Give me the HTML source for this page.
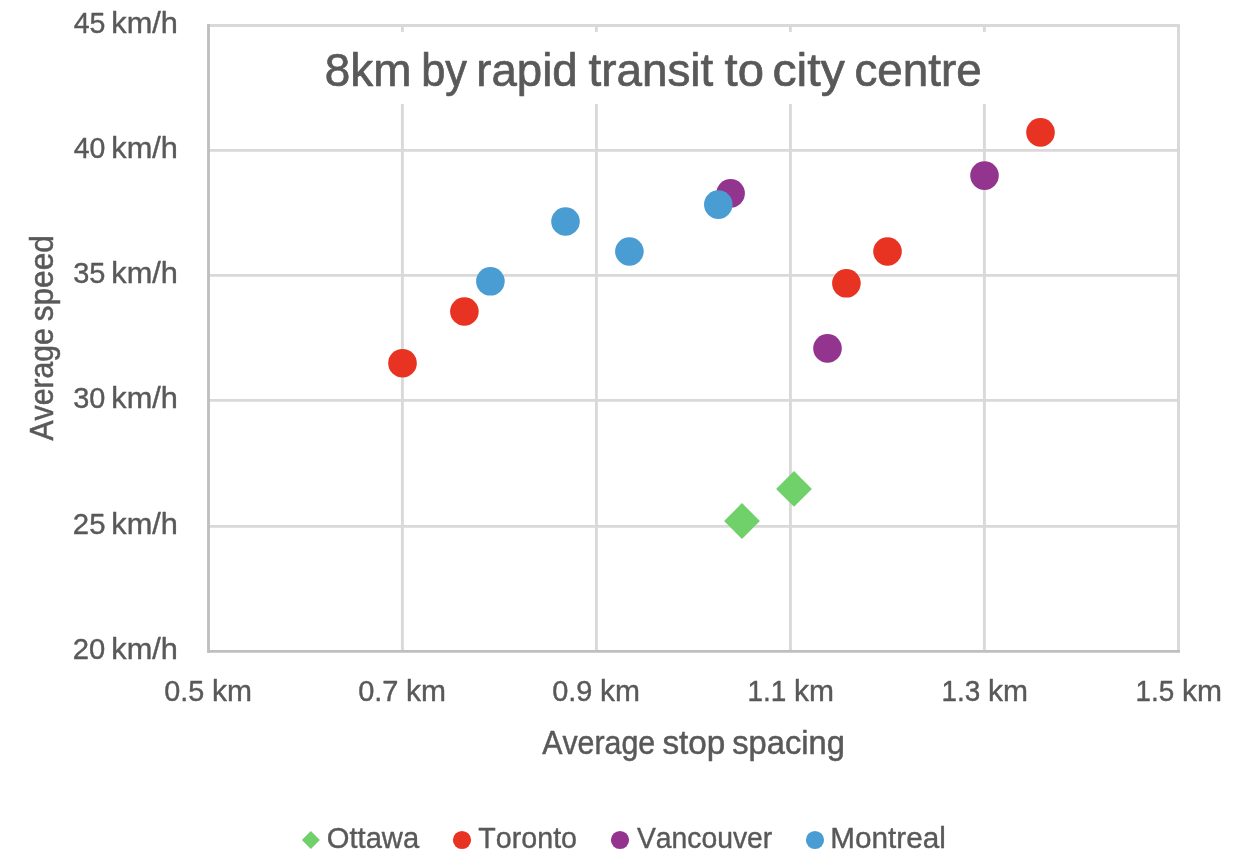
<!DOCTYPE html>
<html lang="en"><head><meta charset="utf-8"><title>8km by rapid transit to city centre</title>
<style>html,body{margin:0;padding:0;background:#fff;}body{width:1246px;height:866px;overflow:hidden;}svg{display:block;}text{font-family:"Liberation Sans",sans-serif;fill:#595959;stroke:#595959;stroke-linejoin:round;font-kerning:none;white-space:pre;}</style></head><body>
<svg width="1246" height="866" viewBox="0 0 1246 866">
<rect width="1246" height="866" fill="#fff"/>
<line x1="208.5" y1="25.5" x2="1180.0" y2="25.5" stroke="#d9d9d9" stroke-width="2.9"/>
<line x1="208.5" y1="150.4" x2="1180.0" y2="150.4" stroke="#d9d9d9" stroke-width="2.9"/>
<line x1="208.5" y1="275.4" x2="1180.0" y2="275.4" stroke="#d9d9d9" stroke-width="2.9"/>
<line x1="208.5" y1="400.4" x2="1180.0" y2="400.4" stroke="#d9d9d9" stroke-width="2.9"/>
<line x1="208.5" y1="526.4" x2="1180.0" y2="526.4" stroke="#d9d9d9" stroke-width="2.9"/>
<line x1="402.4" y1="25.5" x2="402.4" y2="651.4" stroke="#d9d9d9" stroke-width="2.9"/>
<line x1="596.4" y1="25.5" x2="596.4" y2="651.4" stroke="#d9d9d9" stroke-width="2.9"/>
<line x1="790.4" y1="25.5" x2="790.4" y2="651.4" stroke="#d9d9d9" stroke-width="2.9"/>
<line x1="984.4" y1="25.5" x2="984.4" y2="651.4" stroke="#d9d9d9" stroke-width="2.9"/>
<line x1="1178.5" y1="25.5" x2="1178.5" y2="651.4" stroke="#d9d9d9" stroke-width="2.9"/>
<rect x="209.9" y="31.9" width="967.1" height="72.1" fill="#fff"/>
<line x1="208.5" y1="24.1" x2="208.5" y2="652.9" stroke="#bfbfbf" stroke-width="2.9"/>
<line x1="208.5" y1="651.4" x2="1180.0" y2="651.4" stroke="#bfbfbf" stroke-width="2.9"/>
<text y="85.7" font-size="46.4" stroke-width="0.7"><tspan x="324.76" textLength="86.61" lengthAdjust="spacingAndGlyphs">8km</tspan> <tspan x="421.26" textLength="45.78" lengthAdjust="spacingAndGlyphs">by</tspan> <tspan x="476.32" textLength="101.37" lengthAdjust="spacingAndGlyphs">rapid</tspan> <tspan x="588.46" textLength="124.83" lengthAdjust="spacingAndGlyphs">transit</tspan> <tspan x="724.63" textLength="39.40" lengthAdjust="spacingAndGlyphs">to</tspan> <tspan x="772.40" textLength="72.45" lengthAdjust="spacingAndGlyphs">city</tspan> <tspan x="854.40" textLength="127.38" lengthAdjust="spacingAndGlyphs">centre</tspan></text>
<text y="32.8" font-size="28.6" stroke-width="0.40"><tspan x="73.64" textLength="31.75" lengthAdjust="spacingAndGlyphs">45</tspan> <tspan x="111.33" textLength="66.56" lengthAdjust="spacingAndGlyphs">km/h</tspan></text>
<text y="157.7" font-size="28.6" stroke-width="0.40"><tspan x="73.65" textLength="31.67" lengthAdjust="spacingAndGlyphs">40</tspan> <tspan x="111.33" textLength="66.56" lengthAdjust="spacingAndGlyphs">km/h</tspan></text>
<text y="282.7" font-size="28.6" stroke-width="0.40"><tspan x="73.20" textLength="32.22" lengthAdjust="spacingAndGlyphs">35</tspan> <tspan x="111.33" textLength="66.56" lengthAdjust="spacingAndGlyphs">km/h</tspan></text>
<text y="407.7" font-size="28.6" stroke-width="0.40"><tspan x="73.20" textLength="32.13" lengthAdjust="spacingAndGlyphs">30</tspan> <tspan x="111.33" textLength="66.56" lengthAdjust="spacingAndGlyphs">km/h</tspan></text>
<text y="533.7" font-size="28.6" stroke-width="0.40"><tspan x="72.83" textLength="32.61" lengthAdjust="spacingAndGlyphs">25</tspan> <tspan x="111.33" textLength="66.56" lengthAdjust="spacingAndGlyphs">km/h</tspan></text>
<text y="658.7" font-size="28.6" stroke-width="0.40"><tspan x="72.83" textLength="32.51" lengthAdjust="spacingAndGlyphs">20</tspan> <tspan x="111.33" textLength="66.56" lengthAdjust="spacingAndGlyphs">km/h</tspan></text>
<text y="700.8" font-size="28.6" stroke-width="0.40"><tspan x="164.28" textLength="40.03" lengthAdjust="spacingAndGlyphs">0.5</tspan> <tspan x="212.08" textLength="40.00" lengthAdjust="spacingAndGlyphs">km</tspan></text>
<text y="700.8" font-size="28.6" stroke-width="0.40"><tspan x="358.17" textLength="40.29" lengthAdjust="spacingAndGlyphs">0.7</tspan> <tspan x="405.98" textLength="40.00" lengthAdjust="spacingAndGlyphs">km</tspan></text>
<text y="700.8" font-size="28.6" stroke-width="0.40"><tspan x="552.17" textLength="40.20" lengthAdjust="spacingAndGlyphs">0.9</tspan> <tspan x="599.98" textLength="40.00" lengthAdjust="spacingAndGlyphs">km</tspan></text>
<text y="700.8" font-size="28.6" stroke-width="0.40"><tspan x="747.47" textLength="38.90" lengthAdjust="spacingAndGlyphs">1.1</tspan> <tspan x="793.98" textLength="40.00" lengthAdjust="spacingAndGlyphs">km</tspan></text>
<text y="700.8" font-size="28.6" stroke-width="0.40"><tspan x="941.48" textLength="38.75" lengthAdjust="spacingAndGlyphs">1.3</tspan> <tspan x="987.98" textLength="40.00" lengthAdjust="spacingAndGlyphs">km</tspan></text>
<text y="700.8" font-size="28.6" stroke-width="0.40"><tspan x="1135.58" textLength="38.69" lengthAdjust="spacingAndGlyphs">1.5</tspan> <tspan x="1182.08" textLength="40.00" lengthAdjust="spacingAndGlyphs">km</tspan></text>
<text y="754.3" font-size="32.5" stroke-width="0.50"><tspan x="542.19" textLength="113.01" lengthAdjust="spacingAndGlyphs">Average</tspan> <tspan x="662.42" textLength="62.92" lengthAdjust="spacingAndGlyphs">stop</tspan> <tspan x="732.24" textLength="112.62" lengthAdjust="spacingAndGlyphs">spacing</tspan></text>
<text transform="translate(53.2 440.7) rotate(-90)" y="0" font-size="32.5" stroke-width="0.50"><tspan x="0.19" textLength="112.20" lengthAdjust="spacingAndGlyphs">Average</tspan> <tspan x="119.47" textLength="86.01" lengthAdjust="spacingAndGlyphs">speed</tspan></text>
<polygon points="742.0,503.1 759.9,521.0 742.0,538.9 724.1,521.0" fill="#70D06A"/>
<polygon points="794.0,471.0 811.9,488.9 794.0,506.8 776.1,488.9" fill="#70D06A"/>
<circle cx="402.5" cy="363.2" r="14.3" fill="#E83323"/>
<circle cx="464.4" cy="311.5" r="14.3" fill="#E83323"/>
<circle cx="846.4" cy="283.3" r="14.3" fill="#E83323"/>
<circle cx="887.5" cy="251.5" r="14.3" fill="#E83323"/>
<circle cx="1040.5" cy="132.4" r="14.3" fill="#E83323"/>
<circle cx="730.6" cy="193.3" r="14.3" fill="#93358F"/>
<circle cx="827.5" cy="348.4" r="14.3" fill="#93358F"/>
<circle cx="984.5" cy="175.6" r="14.3" fill="#93358F"/>
<circle cx="490.4" cy="281.3" r="14.3" fill="#4A9DD2"/>
<circle cx="565.5" cy="221.5" r="14.3" fill="#4A9DD2"/>
<circle cx="629.4" cy="251.5" r="14.3" fill="#4A9DD2"/>
<circle cx="718.3" cy="204.6" r="14.3" fill="#4A9DD2"/>
<polygon points="310.9,831.1 319.9,840.1 310.9,849.1 301.9,840.1" fill="#70D06A"/>
<circle cx="462" cy="840" r="9.1" fill="#E83323"/>
<circle cx="620" cy="840" r="9.1" fill="#93358F"/>
<circle cx="815" cy="840" r="9.1" fill="#4A9DD2"/>
<text y="848.2" font-size="30.0" stroke-width="0.40"><tspan x="326.82" textLength="92.28" lengthAdjust="spacingAndGlyphs">Ottawa</tspan></text>
<text y="848.2" font-size="30.0" stroke-width="0.40"><tspan x="478.36" textLength="98.64" lengthAdjust="spacingAndGlyphs">Toronto</tspan></text>
<text y="848.2" font-size="30.0" stroke-width="0.40"><tspan x="636.88" textLength="135.39" lengthAdjust="spacingAndGlyphs">Vancouver</tspan></text>
<text y="848.2" font-size="30.0" stroke-width="0.40"><tspan x="830.37" textLength="115.42" lengthAdjust="spacingAndGlyphs">Montreal</tspan></text>
</svg></body></html>
